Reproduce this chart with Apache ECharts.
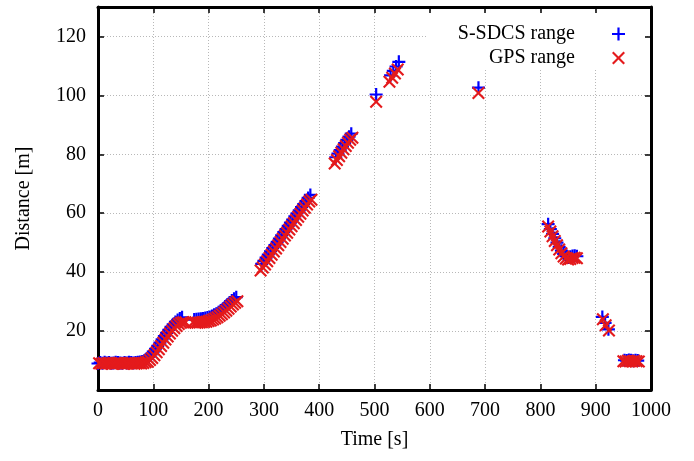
<!DOCTYPE html>
<html>
<head>
<meta charset="utf-8">
<script src="https://cdn.jsdelivr.net/npm/echarts@6/dist/echarts.min.js"></script>
<style>
html,body{margin:0;padding:0;background:#fff;}
#chart{width:694px;height:461px;}
</style>
</head>
<body>
<div id="chart"></div>
<script>
// S-SDCS range samples
const sdcsTime = [0,4,8,12,16,20,24,28,32,36,40,44,48,52,56,60,64,68,72,76,80,84,
  88,92,96,100,104,108,112,116,120,124,128,132,136,140,144,148,152,
  174,178,182,186,190,194,198,202,206,210,214,218,222,226,230,234,238,242,246,250,
  296,300,304,308,312,316,320,324,328,332,336,340,344,348,352,356,360,364,368,372,376,380,384,
  430,434,438,442,446,450,454,458,
  503,
  529,534,539,544,
  688,
  814,818,822,826,830,834,838,842,846,850,854,858,862,866,
  912,917,923,
  952,956,960,964,968,972,976];
const sdcsRange = [9.0,9.3,9.1,9.4,9.2,9.3,9.1,9.2,9.4,9.3,9.2,9.1,9.3,9.2,9.4,9.3,9.2,9.3,9.4,9.5,9.7,10.0,
  10.6,11.3,12.1,13.0,14.0,15.0,16.1,17.2,18.3,19.4,20.4,21.4,22.3,23.1,23.8,24.3,24.7,
  23.9,24.0,24.1,24.2,24.3,24.4,24.6,24.8,25.1,25.5,25.9,26.4,27.0,27.6,28.3,29.0,29.7,30.4,31.0,31.5,
  42.8,43.8,44.9,46.0,47.1,48.2,49.2,50.3,51.4,52.5,53.6,54.6,55.7,56.8,57.8,58.9,60.0,61.0,62.1,63.1,64.1,65.2,66.2,
  79.0,80.2,81.4,82.6,83.8,84.9,86.0,87.0,
  100.3,
  106.8,108.3,109.8,111.4,
  102.6,
  56.3,54.6,53.0,51.5,50.0,48.6,47.3,46.2,45.4,45.0,45.2,45.5,45.6,45.4,
  24.8,22.8,20.6,
  10.1,10.0,10.2,10.1,9.9,10.1,10.0];

// GPS range samples
const gpsTime = [2,6,10,14,18,22,26,30,34,38,42,46,50,54,58,62,66,70,74,78,82,86,
  90,94,98,102,106,110,114,118,122,126,130,134,138,142,146,150,154,158,
  172,176,180,184,188,192,196,200,204,208,212,216,220,224,228,232,236,240,244,248,252,
  294,298,302,306,310,314,318,322,326,330,334,338,342,346,350,354,358,362,366,370,374,378,382,386,
  428,432,436,440,444,448,452,456,460,
  503,
  527,532,537,542,
  688,
  814,818,822,826,830,834,838,842,846,850,854,858,862,866,
  913,918,924,
  950,954,958,962,966,970,974,978];
const gpsRange = [9.1,8.9,9.2,9.0,9.1,9.2,8.9,9.0,9.1,9.2,9.0,8.9,9.1,9.0,9.2,9.1,8.9,9.0,9.1,9.0,9.2,9.4,
  9.6,10.2,10.9,11.8,12.8,13.8,14.9,16.0,17.1,18.2,19.2,20.1,21.0,21.7,22.4,22.8,23.0,23.0,
  23.0,22.8,22.8,22.9,23.0,23.1,23.2,23.4,23.6,23.9,24.3,24.7,25.2,25.7,26.3,26.9,27.6,28.3,29.0,29.6,30.1,
  40.6,41.6,42.6,43.7,44.8,45.9,47.0,48.0,49.1,50.2,51.3,52.4,53.4,54.5,55.6,56.6,57.7,58.8,59.8,60.9,61.9,63.0,64.0,64.6,
  76.9,78.1,79.3,80.5,81.7,82.8,83.9,84.9,85.6,
  97.8,
  104.6,106.0,107.4,108.8,
  100.8,
  55.5,53.8,52.2,50.6,49.1,47.7,46.4,45.3,44.6,44.3,44.5,44.8,44.9,44.7,
  24.0,22.0,20.2,
  9.8,9.7,9.9,9.8,9.7,9.9,9.8,9.7];

const xTicks = [0,100,200,300,400,500,600,700,800,900,1000];
const yTicks = [20,40,60,80,100,120];
const seriesNames = ['S-SDCS range','GPS range'];

const PLUS = 'path://M-1.1,-6.5 H1.1 V-1.1 H6.5 V1.1 H1.1 V6.5 H-1.1 V1.1 H-6.5 V-1.1 H-1.1 Z';
const CROSS = 'path://M-6.5,-5 L-5,-6.5 L0,-1.5 L5,-6.5 L6.5,-5 L1.5,0 L6.5,5 L5,6.5 L0,1.5 L-5,6.5 L-6.5,5 L-1.5,0 Z';

const FONT = 'Liberation Serif';
const gridLine = {show:true, lineStyle:{color:'#b8b8b8', width:1, type:[1,2]}};
const frameLine = {show:true, onZero:false, lineStyle:{color:'#000', width:3}};
const tick = {show:true, inside:true, length:6, lineStyle:{color:'#000', width:1.5}};

const chart = echarts.init(document.getElementById('chart'), null, {renderer:'canvas'});
chart.setOption({
  animation:false,
  backgroundColor:'#fff',
  grid:{left:98, right:43, top:7, bottom:71, containLabel:false},
  legend:{
    orient:'vertical', align:'right', right:49, top:13,
    padding:[10,20,0,30], itemGap:2, itemWidth:13, itemHeight:13,
    backgroundColor:'#fff',
    data:[{name:seriesNames[0], icon:PLUS},{name:seriesNames[1], icon:CROSS}],
    textStyle:{fontFamily:FONT, fontSize:20, color:'#000', lineHeight:22, padding:[0,32,0,0]}
  },
  xAxis:[{
    type:'value', min:0, max:1000, interval:100, position:'bottom',
    name:'Time [s]', nameLocation:'middle', nameGap:40,
    nameTextStyle:{fontFamily:FONT, fontSize:20, color:'#000'},
    axisLine:frameLine, axisTick:tick, splitLine:gridLine,
    axisLabel:{fontFamily:FONT, fontSize:20, color:'#000', margin:11,
      formatter:v => xTicks.indexOf(v) >= 0 ? String(v) : ''}
  },{
    type:'value', min:0, max:1000, interval:100, position:'top',
    axisLine:frameLine, axisTick:tick, axisLabel:{show:false}, splitLine:{show:false}
  }],
  yAxis:[{
    type:'value', min:0, max:130, interval:20, position:'left',
    name:'Distance [m]', nameLocation:'middle', nameGap:64,
    nameTextStyle:{fontFamily:FONT, fontSize:20, color:'#000'},
    axisLine:frameLine, axisTick:tick, splitLine:gridLine,
    axisLabel:{fontFamily:FONT, fontSize:20, color:'#000', margin:12,
      formatter:v => yTicks.indexOf(v) >= 0 ? String(v) : ''}
  },{
    type:'value', min:0, max:130, interval:20, position:'right',
    axisLine:frameLine, axisTick:tick, axisLabel:{show:false}, splitLine:{show:false}
  }],
  series:[{
    name:seriesNames[0], type:'scatter', clip:false,
    symbol:PLUS, symbolSize:13,
    itemStyle:{color:'#0000ff', opacity:1},
    data:sdcsTime.map((t,i)=>[t, sdcsRange[i]]), z:2
  },{
    name:seriesNames[1], type:'scatter', clip:false,
    symbol:CROSS, symbolSize:13,
    itemStyle:{color:'#e41a1c', opacity:1},
    data:gpsTime.map((t,i)=>[t, gpsRange[i]]), z:3
  }]
});
</script>
</body>
</html>
